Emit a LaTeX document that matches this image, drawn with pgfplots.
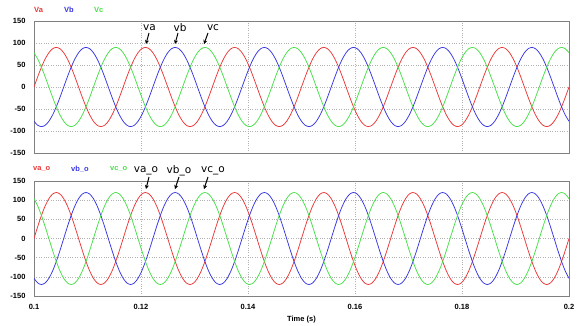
\documentclass[border=0pt]{standalone}
\usepackage{pgfplots}
\usepackage{pgfplotstable}
\usepackage{fontspec}
\setmainfont{Liberation Sans}
\newfontfamily\annfont{DejaVu Sans}
\pgfplotsset{compat=1.18}
\usetikzlibrary{arrows.meta}
\definecolor{cR}{RGB}{235,55,55}
\definecolor{cB}{RGB}{55,55,225}
\definecolor{cG}{RGB}{70,225,70}

\pgfplotstableread{
t a b c ao bo co
0.100000 0 -77.94 77.94 0 -103.92 103.92
0.100694 23.29 -86.93 63.64 31.06 -115.91 84.85
0.101389 45 -90 45 60 -120 60
0.102083 63.64 -86.93 23.29 84.85 -115.91 31.06
0.102778 77.94 -77.94 0 103.92 -103.92 0
0.103472 86.93 -63.64 -23.29 115.91 -84.85 -31.06
0.104167 90 -45 -45 120 -60 -60
0.104861 86.93 -23.29 -63.64 115.91 -31.06 -84.85
0.105556 77.94 0 -77.94 103.92 0 -103.92
0.106250 63.64 23.29 -86.93 84.85 31.06 -115.91
0.106944 45 45 -90 60 60 -120
0.107639 23.29 63.64 -86.93 31.06 84.85 -115.91
0.108333 0 77.94 -77.94 0 103.92 -103.92
0.109028 -23.29 86.93 -63.64 -31.06 115.91 -84.85
0.109722 -45 90 -45 -60 120 -60
0.110417 -63.64 86.93 -23.29 -84.85 115.91 -31.06
0.111111 -77.94 77.94 0 -103.92 103.92 0
0.111806 -86.93 63.64 23.29 -115.91 84.85 31.06
0.112500 -90 45 45 -120 60 60
0.113194 -86.93 23.29 63.64 -115.91 31.06 84.85
0.113889 -77.94 0 77.94 -103.92 0 103.92
0.114583 -63.64 -23.29 86.93 -84.85 -31.06 115.91
0.115278 -45 -45 90 -60 -60 120
0.115972 -23.29 -63.64 86.93 -31.06 -84.85 115.91
0.116667 0 -77.94 77.94 0 -103.92 103.92
0.117361 23.29 -86.93 63.64 31.06 -115.91 84.85
0.118056 45 -90 45 60 -120 60
0.118750 63.64 -86.93 23.29 84.85 -115.91 31.06
0.119444 77.94 -77.94 0 103.92 -103.92 0
0.120139 86.93 -63.64 -23.29 115.91 -84.85 -31.06
0.120833 90 -45 -45 120 -60 -60
0.121528 86.93 -23.29 -63.64 115.91 -31.06 -84.85
0.122222 77.94 0 -77.94 103.92 0 -103.92
0.122917 63.64 23.29 -86.93 84.85 31.06 -115.91
0.123611 45 45 -90 60 60 -120
0.124306 23.29 63.64 -86.93 31.06 84.85 -115.91
0.125000 0 77.94 -77.94 0 103.92 -103.92
0.125694 -23.29 86.93 -63.64 -31.06 115.91 -84.85
0.126389 -45 90 -45 -60 120 -60
0.127083 -63.64 86.93 -23.29 -84.85 115.91 -31.06
0.127778 -77.94 77.94 0 -103.92 103.92 0
0.128472 -86.93 63.64 23.29 -115.91 84.85 31.06
0.129167 -90 45 45 -120 60 60
0.129861 -86.93 23.29 63.64 -115.91 31.06 84.85
0.130556 -77.94 0 77.94 -103.92 0 103.92
0.131250 -63.64 -23.29 86.93 -84.85 -31.06 115.91
0.131944 -45 -45 90 -60 -60 120
0.132639 -23.29 -63.64 86.93 -31.06 -84.85 115.91
0.133333 0 -77.94 77.94 0 -103.92 103.92
0.134028 23.29 -86.93 63.64 31.06 -115.91 84.85
0.134722 45 -90 45 60 -120 60
0.135417 63.64 -86.93 23.29 84.85 -115.91 31.06
0.136111 77.94 -77.94 0 103.92 -103.92 0
0.136806 86.93 -63.64 -23.29 115.91 -84.85 -31.06
0.137500 90 -45 -45 120 -60 -60
0.138194 86.93 -23.29 -63.64 115.91 -31.06 -84.85
0.138889 77.94 0 -77.94 103.92 0 -103.92
0.139583 63.64 23.29 -86.93 84.85 31.06 -115.91
0.140278 45 45 -90 60 60 -120
0.140972 23.29 63.64 -86.93 31.06 84.85 -115.91
0.141667 0 77.94 -77.94 0 103.92 -103.92
0.142361 -23.29 86.93 -63.64 -31.06 115.91 -84.85
0.143056 -45 90 -45 -60 120 -60
0.143750 -63.64 86.93 -23.29 -84.85 115.91 -31.06
0.144444 -77.94 77.94 0 -103.92 103.92 0
0.145139 -86.93 63.64 23.29 -115.91 84.85 31.06
0.145833 -90 45 45 -120 60 60
0.146528 -86.93 23.29 63.64 -115.91 31.06 84.85
0.147222 -77.94 0 77.94 -103.92 0 103.92
0.147917 -63.64 -23.29 86.93 -84.85 -31.06 115.91
0.148611 -45 -45 90 -60 -60 120
0.149306 -23.29 -63.64 86.93 -31.06 -84.85 115.91
0.150000 0 -77.94 77.94 0 -103.92 103.92
0.150694 23.29 -86.93 63.64 31.06 -115.91 84.85
0.151389 45 -90 45 60 -120 60
0.152083 63.64 -86.93 23.29 84.85 -115.91 31.06
0.152778 77.94 -77.94 0 103.92 -103.92 0
0.153472 86.93 -63.64 -23.29 115.91 -84.85 -31.06
0.154167 90 -45 -45 120 -60 -60
0.154861 86.93 -23.29 -63.64 115.91 -31.06 -84.85
0.155556 77.94 0 -77.94 103.92 0 -103.92
0.156250 63.64 23.29 -86.93 84.85 31.06 -115.91
0.156944 45 45 -90 60 60 -120
0.157639 23.29 63.64 -86.93 31.06 84.85 -115.91
0.158333 0 77.94 -77.94 0 103.92 -103.92
0.159028 -23.29 86.93 -63.64 -31.06 115.91 -84.85
0.159722 -45 90 -45 -60 120 -60
0.160417 -63.64 86.93 -23.29 -84.85 115.91 -31.06
0.161111 -77.94 77.94 0 -103.92 103.92 0
0.161806 -86.93 63.64 23.29 -115.91 84.85 31.06
0.162500 -90 45 45 -120 60 60
0.163194 -86.93 23.29 63.64 -115.91 31.06 84.85
0.163889 -77.94 0 77.94 -103.92 0 103.92
0.164583 -63.64 -23.29 86.93 -84.85 -31.06 115.91
0.165278 -45 -45 90 -60 -60 120
0.165972 -23.29 -63.64 86.93 -31.06 -84.85 115.91
0.166667 0 -77.94 77.94 0 -103.92 103.92
0.167361 23.29 -86.93 63.64 31.06 -115.91 84.85
0.168056 45 -90 45 60 -120 60
0.168750 63.64 -86.93 23.29 84.85 -115.91 31.06
0.169444 77.94 -77.94 0 103.92 -103.92 0
0.170139 86.93 -63.64 -23.29 115.91 -84.85 -31.06
0.170833 90 -45 -45 120 -60 -60
0.171528 86.93 -23.29 -63.64 115.91 -31.06 -84.85
0.172222 77.94 0 -77.94 103.92 0 -103.92
0.172917 63.64 23.29 -86.93 84.85 31.06 -115.91
0.173611 45 45 -90 60 60 -120
0.174306 23.29 63.64 -86.93 31.06 84.85 -115.91
0.175000 0 77.94 -77.94 0 103.92 -103.92
0.175694 -23.29 86.93 -63.64 -31.06 115.91 -84.85
0.176389 -45 90 -45 -60 120 -60
0.177083 -63.64 86.93 -23.29 -84.85 115.91 -31.06
0.177778 -77.94 77.94 0 -103.92 103.92 0
0.178472 -86.93 63.64 23.29 -115.91 84.85 31.06
0.179167 -90 45 45 -120 60 60
0.179861 -86.93 23.29 63.64 -115.91 31.06 84.85
0.180556 -77.94 0 77.94 -103.92 0 103.92
0.181250 -63.64 -23.29 86.93 -84.85 -31.06 115.91
0.181944 -45 -45 90 -60 -60 120
0.182639 -23.29 -63.64 86.93 -31.06 -84.85 115.91
0.183333 0 -77.94 77.94 0 -103.92 103.92
0.184028 23.29 -86.93 63.64 31.06 -115.91 84.85
0.184722 45 -90 45 60 -120 60
0.185417 63.64 -86.93 23.29 84.85 -115.91 31.06
0.186111 77.94 -77.94 0 103.92 -103.92 0
0.186806 86.93 -63.64 -23.29 115.91 -84.85 -31.06
0.187500 90 -45 -45 120 -60 -60
0.188194 86.93 -23.29 -63.64 115.91 -31.06 -84.85
0.188889 77.94 0 -77.94 103.92 0 -103.92
0.189583 63.64 23.29 -86.93 84.85 31.06 -115.91
0.190278 45 45 -90 60 60 -120
0.190972 23.29 63.64 -86.93 31.06 84.85 -115.91
0.191667 0 77.94 -77.94 0 103.92 -103.92
0.192361 -23.29 86.93 -63.64 -31.06 115.91 -84.85
0.193056 -45 90 -45 -60 120 -60
0.193750 -63.64 86.93 -23.29 -84.85 115.91 -31.06
0.194444 -77.94 77.94 0 -103.92 103.92 0
0.195139 -86.93 63.64 23.29 -115.91 84.85 31.06
0.195833 -90 45 45 -120 60 60
0.196528 -86.93 23.29 63.64 -115.91 31.06 84.85
0.197222 -77.94 0 77.94 -103.92 0 103.92
0.197917 -63.64 -23.29 86.93 -84.85 -31.06 115.91
0.198611 -45 -45 90 -60 -60 120
0.199306 -23.29 -63.64 86.93 -31.06 -84.85 115.91
0.200000 0 -77.94 77.94 0 -103.92 103.92
}\wave

\pgfplotsset{
  psim/.style={
    scale only axis,
    width=535pt,
    xmin=0.1, xmax=0.2, ymin=-150, ymax=150,
    xtick={0.1,0.12,0.14,0.16,0.18,0.2},
    ytick={-150,-100,-50,0,50,100,150},
    grid=major,
    major grid style={dotted, black!30, line width=0.6pt},
    major tick length=0pt,
    axis line style={black!50, line width=1pt},
    tick label style={font=\fontsize{7.5}{8}\selectfont\bfseries},
    /pgf/number format/assume math mode=true,
    yticklabel style={anchor=east, xshift=-5pt},
    every axis plot/.append style={line width=0.75pt, smooth, no markers},
  }
}

\begin{document}
\begin{tikzpicture}
\path[use as bounding box, fill=white] (0pt,0pt) rectangle (582pt,-325pt);

\begin{axis}[psim, at={(34pt,-153pt)}, anchor=south west, height=132pt, xticklabels={}]
\addplot[cR] table[x=t, y=a] {\wave};
\addplot[cB] table[x=t, y=b] {\wave};
\addplot[cG] table[x=t, y=c] {\wave};
\end{axis}

\begin{axis}[psim, at={(34pt,-296pt)}, anchor=south west, height=115pt,
  xlabel={Time (s)},
  xlabel style={font=\fontsize{7.5}{8}\selectfont\bfseries, yshift=1pt},
  xticklabel style={yshift=-5pt}]
\addplot[cR] table[x=t, y=ao] {\wave};
\addplot[cB] table[x=t, y=bo] {\wave};
\addplot[cG] table[x=t, y=co] {\wave};
\end{axis}

% channel names
\begin{scope}[font=\fontsize{7.5}{8}\selectfont\bfseries]
\node[anchor=west, inner sep=0, text=cR] at (34pt,-10pt) {Va};
\node[anchor=west, inner sep=0, text=cB] at (64pt,-10pt) {Vb};
\node[anchor=west, inner sep=0, text=cG] at (94pt,-10pt) {Vc};
\node[anchor=west, inner sep=0, text=cR] at (33pt,-169pt) {va\_o};
\node[anchor=west, inner sep=0, text=cB] at (71pt,-169pt) {vb\_o};
\node[anchor=west, inner sep=0, text=cG] at (110pt,-169pt) {vc\_o};
\end{scope}

% annotations
\begin{scope}[font=\annfont\fontsize{10.5}{11}\selectfont, inner sep=0]
\node at (149.5pt,-28pt) {va};
\node at (180pt,-28pt) {vb};
\node at (213pt,-28pt) {vc};
\node at (146pt,-171pt) {va\_o};
\node at (179pt,-171pt) {vb\_o};
\node at (213pt,-171pt) {vc\_o};
\end{scope}
\begin{scope}[-{Stealth[length=4pt,width=4pt]}, line width=1pt]
\draw (149pt,-33pt) -- (146pt,-44pt);
\draw (178pt,-33pt) -- (175pt,-44pt);
\draw (208pt,-33pt) -- (204pt,-44pt);
\draw (149pt,-177pt) -- (146pt,-189pt);
\draw (179pt,-177pt) -- (175pt,-189pt);
\draw (208pt,-177pt) -- (204pt,-189pt);
\end{scope}
\end{tikzpicture}
\end{document}
